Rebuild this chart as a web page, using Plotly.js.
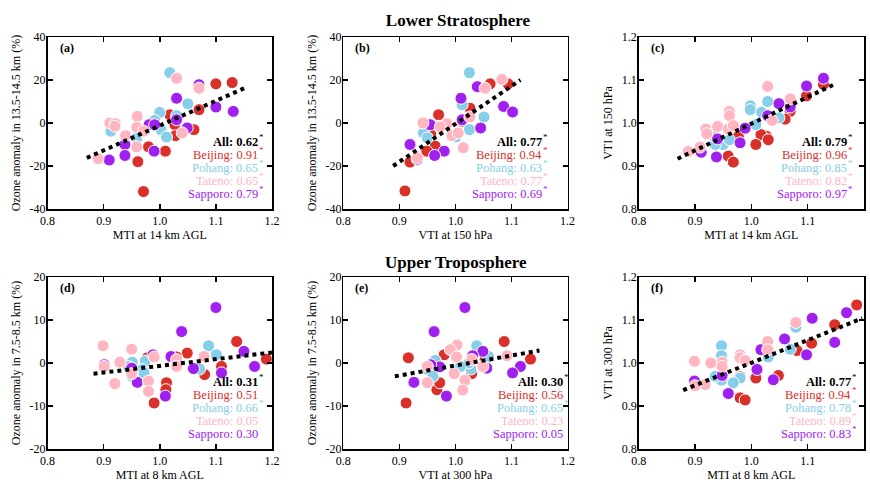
<!DOCTYPE html>
<html><head><meta charset="utf-8">
<script src="https://cdn.plot.ly/plotly-3.0.1.min.js"></script>
<style>html,body{margin:0;padding:0;background:#fff}</style>
</head><body><div id="chart" style="width:870px;height:483px"></div>
<script>
// ---------- DATA ----------
const stations = ['Beijing', 'Pohang', 'Tateno', 'Sapporo'];

// (a) MTI at 14 km vs ozone anomaly 13.5-14.5 km
const aBeijingX = [1.100, 1.129, 1.070, 1.018, 1.027, 1.061, 1.028, 0.980, 1.010, 0.961, 0.971];
const aBeijingY = [18.2, 18.8, 6.2, 3.8, -0.8, -3.1, -5.9, -11.1, -13.1, -18.0, -31.9];
const aPohangX = [1.018, 1.050, 1.000, 0.991, 1.002, 1.012, 0.913, 0.913, 0.959, 1.030];
const aPohangY = [23.4, 8.9, 4.9, 1.2, -3.1, -6.5, -1.5, -3.8, -7.0, 3.4];
const aTatenoX = [1.030, 1.070, 0.911, 0.921, 0.920, 0.960, 0.959, 0.939, 0.971, 0.959, 0.890, 1.040];
const aTatenoY = [20.8, 16.2, 0.0, -0.3, -1.5, 3.1, -2.0, -5.9, -3.8, -11.1, -16.6, -4.6];
const aSapporoX = [1.070, 1.030, 1.100, 1.131, 0.981, 0.991, 1.030, 1.049, 0.938, 0.990, 0.938, 0.910];
const aSapporoY = [17.8, 11.5, 7.4, 5.4, -0.8, -0.8, 1.5, -2.3, -10.0, -13.1, -15.1, -17.2];

// (b) VTI at 150 hPa vs ozone anomaly 13.5-14.5 km
const bBeijingX = [1.062, 1.094, 1.026, 0.970, 1.012, 0.956, 0.964, 0.949, 0.919, 0.910];
const bBeijingY = [18.2, 18.2, 6.9, 3.8, 0.8, -4.9, -10.8, -13.1, -18.2, -31.6];
const bPohangX = [1.025, 1.012, 1.051, 1.025, 0.943, 0.950, 0.970, 1.001];
const bPohangY = [23.4, 8.5, 2.8, -3.1, -4.6, -6.9, -1.5, -6.5];
const bTatenoX = [1.083, 1.053, 0.942, 0.985, 0.973, 0.994, 1.005, 1.014, 1.026, 0.932];
const bTatenoY = [20.3, 16.2, 0.0, -0.3, -1.8, -5.9, -4.6, -11.5, 2.8, -16.2];
const bSapporoX = [1.039, 1.010, 1.086, 1.102, 0.955, 1.012, 1.045, 0.919, 0.980, 0.963, 0.932];
const bSapporoY = [16.9, 11.5, 7.7, 5.1, -0.8, 1.5, -2.3, -10.0, -13.1, -15.1, -16.9];

// (c) MTI at 14 km vs VTI at 150 hPa
const cBeijingX = [1.128, 1.098, 1.069, 1.060, 1.027, 1.017, 1.030, 1.008, 0.977, 0.959, 0.968];
const cBeijingY = [1.090, 1.063, 1.027, 1.009, 0.969, 0.973, 0.961, 0.950, 0.969, 0.923, 0.909];
const cPohangX = [0.998, 0.998, 1.029, 1.018, 1.008, 1.049, 0.934, 0.950, 0.936, 0.961];
const cPohangY = [1.040, 1.031, 1.050, 1.025, 0.996, 1.012, 0.968, 0.950, 0.950, 0.961];
const cTatenoX = [1.029, 1.069, 0.961, 0.961, 0.919, 0.921, 0.940, 0.959, 0.968, 1.037, 0.888, 0.909];
const cTatenoY = [1.085, 1.056, 1.027, 1.017, 0.986, 0.975, 0.992, 0.986, 0.994, 1.006, 0.934, 0.944];
const cSapporoX = [1.128, 1.098, 1.049, 1.069, 1.029, 0.989, 0.980, 0.940, 0.938, 0.911];
const cSapporoY = [1.104, 1.086, 1.045, 1.037, 1.017, 0.988, 0.954, 0.963, 0.921, 0.932];

// (d) MTI at 8 km vs ozone anomaly 7.5-8.5 km
const dBeijingX = [1.137, 1.190, 1.110, 1.080, 1.049, 1.030, 0.978, 1.012, 1.011, 0.990];
const dBeijingY = [5.0, 0.9, -0.8, -2.7, 2.3, 1.4, 1.2, -4.6, -6.2, -9.3];
const dPohangX = [1.087, 1.101, 1.071, 0.974, 0.951, 0.944, 0.969, 0.972, 0.951];
const dPohangY = [4.0, 1.9, -1.4, 0.4, 0.2, -0.8, -1.5, -2.3, -3.1];
const dTatenoX = [0.899, 0.950, 0.929, 0.990, 1.030, 1.030, 1.079, 0.901, 0.950, 0.920, 0.980, 0.980];
const dTatenoY = [4.0, 3.2, 0.2, 1.4, 0.8, -0.8, 1.5, -0.8, -2.5, -4.8, -4.2, -6.6];
const dSapporoX = [1.100, 1.039, 1.150, 1.169, 1.110, 1.060, 1.020, 0.988, 0.950, 0.901, 0.960, 1.010];
const dSapporoY = [12.9, 7.3, 2.7, -0.8, -2.3, -1.3, 1.5, 1.9, -1.2, -0.4, -4.5, -7.7];

// (e) VTI at 300 hPa vs ozone anomaly 7.5-8.5 km
const eBeijingX = [1.087, 1.134, 0.916, 0.912, 0.980, 0.967, 0.972, 1.029, 1.053];
const eBeijingY = [5.0, 0.9, 1.2, -9.3, 1.9, -6.2, -4.6, -2.5, 0.8];
const ePohangX = [1.038, 1.059, 1.028, 0.964, 0.950, 0.960, 1.024, 1.009];
const ePohangY = [4.0, 1.5, -1.4, 0.6, -1.5, -3.1, 0.0, -0.8];
const eTatenoX = [1.003, 0.991, 1.002, 0.950, 0.950, 0.998, 1.017, 1.013, 1.049, 1.092, 1.029];
const eTatenoY = [4.2, 3.1, 1.4, -0.8, -4.6, -2.5, -4.0, -6.3, -0.8, 1.7, 0.8];
const eSapporoX = [1.017, 0.962, 1.049, 1.116, 1.102, 1.056, 1.031, 0.972, 0.956, 0.926, 0.984];
const eSapporoY = [12.9, 7.3, 2.7, -0.8, -2.3, -1.2, 1.7, -0.9, -0.4, -4.5, -7.7];

// (f) MTI at 8 km vs VTI at 300 hPa
const fBeijingX = [1.187, 1.148, 1.107, 1.081, 1.048, 1.008, 0.980, 0.980, 0.989];
const fBeijingY = [1.135, 1.089, 1.046, 1.029, 0.971, 0.965, 0.968, 0.919, 0.914];
const fPohangX = [1.079, 1.069, 1.030, 0.947, 0.947, 0.947, 0.980, 0.968, 0.936];
const fPohangY = [1.083, 1.032, 1.014, 1.040, 1.017, 0.960, 0.965, 0.954, 0.969];
const fTatenoX = [1.079, 1.029, 1.029, 0.980, 0.980, 0.989, 0.948, 0.948, 0.928, 0.899, 0.918, 0.900];
const fTatenoY = [1.094, 1.050, 1.031, 1.019, 1.012, 1.006, 1.002, 0.992, 1.000, 1.004, 0.950, 0.947];
const fSapporoX = [1.169, 1.108, 1.148, 1.059, 1.098, 1.017, 1.010, 1.039, 0.948, 0.959, 0.899];
const fSapporoY = [1.117, 1.104, 1.048, 1.056, 1.019, 1.031, 0.985, 0.961, 0.971, 0.929, 0.958];

// regression line end points (all stations), panels a..f
const fitX = [[0.870, 1.151], [0.889, 1.116], [0.869, 1.146], [0.882, 1.200], [0.892, 1.150], [0.879, 1.197]];
const fitY = [[-16.2, 16.2], [-20.0, 20.0], [0.917, 1.089], [-2.5, 2.45], [-3.1, 2.9], [0.937, 1.104]];

// correlation coefficients per panel a..f and significance
const rAll     = ['0.62', '0.77', '0.79', '0.31', '0.30', '0.77'];
const rBeijing = ['0.91', '0.94', '0.96', '0.51', '0.56', '0.94'];
const rPohang  = ['0.65', '0.63', '0.85', '0.66', '0.65', '0.78'];
const rTateno  = ['0.65', '0.77', '0.82', '0.05', '0.23', '0.89'];
const rSapporo = ['0.79', '0.69', '0.97', '0.30', '0.05', '0.83'];
const sigAll     = [1, 1, 1, 1, 1, 1];
const sigBeijing = [1, 1, 1, 0, 0, 1];
const sigPohang  = [1, 1, 1, 1, 1, 1];
const sigTateno  = [1, 1, 1, 0, 0, 1];
const sigSapporo = [1, 1, 1, 0, 0, 1];

// labels
const panelLabels = ['(a)', '(b)', '(c)', '(d)', '(e)', '(f)'];
const xTitles = ['MTI at 14 km AGL', 'VTI at 150 hPa', 'MTI at 14 km AGL', 'MTI at 8 km AGL', 'VTI at 300 hPa', 'MTI at 8 km AGL'];
const yTitles = ['Ozone anomaly in 13.5-14.5 km (%)', 'Ozone anomaly in 13.5-14.5 km (%)', 'VTI at 150 hPa',
                 'Ozone anomaly in 7.5-8.5 km (%)', 'Ozone anomaly in 7.5-8.5 km (%)', 'VTI at 300 hPa'];
const sectionTitles = ['Lower Stratosphere', 'Upper Troposphere'];
const ratioTicks = [0.8, 0.9, 1.0, 1.1, 1.2];
const ratioTickText = ['0.8', '0.9', '1.0', '1.1', '1.2'];
const o3LSTicks = [-40, -20, 0, 20, 40];
const o3LSTickText = ['-40', '-20', '0', '20', '40'];
const o3UTTicks = [-20, -10, 0, 10, 20];
const o3UTTickText = ['-20', '-10', '0', '10', '20'];

// ---------- STYLE / LAYOUT ----------
const colors = {Beijing: '#D9312A', Pohang: '#87CEEB', Tateno: '#FFB6C1', Sapporo: '#A020F0'};
const drawOrder = ['Beijing', 'Pohang', 'Sapporo', 'Tateno'];
const FONT = '"Liberation Serif", "Times New Roman", Times, serif';

const panelData = [
  {Beijing: [aBeijingX, aBeijingY], Pohang: [aPohangX, aPohangY], Tateno: [aTatenoX, aTatenoY], Sapporo: [aSapporoX, aSapporoY]},
  {Beijing: [bBeijingX, bBeijingY], Pohang: [bPohangX, bPohangY], Tateno: [bTatenoX, bTatenoY], Sapporo: [bSapporoX, bSapporoY]},
  {Beijing: [cBeijingX, cBeijingY], Pohang: [cPohangX, cPohangY], Tateno: [cTatenoX, cTatenoY], Sapporo: [cSapporoX, cSapporoY]},
  {Beijing: [dBeijingX, dBeijingY], Pohang: [dPohangX, dPohangY], Tateno: [dTatenoX, dTatenoY], Sapporo: [dSapporoX, dSapporoY]},
  {Beijing: [eBeijingX, eBeijingY], Pohang: [ePohangX, ePohangY], Tateno: [eTatenoX, eTatenoY], Sapporo: [eSapporoX, eSapporoY]},
  {Beijing: [fBeijingX, fBeijingY], Pohang: [fPohangX, fPohangY], Tateno: [fTatenoX, fTatenoY], Sapporo: [fSapporoX, fSapporoY]}
];
const yTickSets = [[o3LSTicks, o3LSTickText, [-40, 40]], [o3LSTicks, o3LSTickText, [-40, 40]], [ratioTicks, ratioTickText, [0.8, 1.2]],
                   [o3UTTicks, o3UTTickText, [-20, 20]], [o3UTTicks, o3UTTickText, [-20, 20]], [ratioTicks, ratioTickText, [0.8, 1.2]]];

const W = 870, H = 483;
const colPx = [[47.5, 272], [343.3, 567.5], [638.7, 864]];
const rowPx = [[37, 209], [277, 449]];
const legendRight = [0.94, 0.892, 0.931, 0.942, 0.985, 0.946];

const traces = [];
const layout = {
  width: W, height: H, autosize: false,
  margin: {l: 0, r: 0, t: 0, b: 0, pad: 0},
  paper_bgcolor: '#fff', plot_bgcolor: '#fff',
  showlegend: false,
  font: {family: FONT, size: 12, color: '#000'},
  title: {text: '<b>' + sectionTitles[0] + '</b>', x: 458 / W, xanchor: 'center', y: 1 - 20 / H, yanchor: 'middle',
          font: {family: FONT, size: 17, color: '#000'}},
  annotations: []
};

for (let p = 0; p < 6; p++) {
  const sfx = p === 0 ? '' : String(p + 1);
  const col = p % 3, row = Math.floor(p / 3);
  const xd = [colPx[col][0] / W, colPx[col][1] / W];
  const yd = [1 - rowPx[row][1] / H, 1 - rowPx[row][0] / H];
  const yt = yTickSets[p];
  const axCommon = {
    showline: true, linecolor: '#000', linewidth: 1.5, mirror: 'ticks',
    ticks: 'inside', ticklen: 5, tickwidth: 1.5, tickcolor: '#000',
    showgrid: false, zeroline: false,
    tickfont: {family: FONT, size: 12, color: '#000'}
  };
  layout['xaxis' + sfx] = Object.assign({}, axCommon, {
    domain: xd, range: [0.8, 1.2], anchor: 'y' + sfx,
    tickmode: 'array', tickvals: ratioTicks, ticktext: ratioTickText,
    title: {text: xTitles[p], font: {family: FONT, size: 12, color: '#000'}, standoff: 3}
  });
  layout['yaxis' + sfx] = Object.assign({}, axCommon, {
    domain: yd, range: yt[2], anchor: 'x' + sfx,
    tickmode: 'array', tickvals: yt[0], ticktext: yt[1], ticklabelstandoff: -2,
    title: {text: yTitles[p], font: {family: FONT, size: 12, color: '#000'}, standoff: 6}
  });

  drawOrder.forEach(function (st) {
    const d = panelData[p][st];
    traces.push({
      type: 'scatter', mode: 'markers', name: st, x: d[0], y: d[1],
      xaxis: 'x' + sfx, yaxis: 'y' + sfx,
      marker: {size: 12, color: colors[st], line: {color: '#fff', width: 1}},
      hoverinfo: 'x+y+name'
    });
  });
  traces.push({
    type: 'scatter', mode: 'lines', name: 'All', x: fitX[p], y: fitY[p],
    xaxis: 'x' + sfx, yaxis: 'y' + sfx,
    line: {color: '#000', width: 4, dash: 'dot'}, hoverinfo: 'skip'
  });

  // panel label
  layout.annotations.push({
    xref: 'x' + sfx + ' domain', yref: 'y' + sfx + ' domain', x: 0.045, y: 0.934,
    xanchor: 'left', yanchor: 'middle', showarrow: false,
    text: '<b>' + panelLabels[p] + '</b>', font: {family: FONT, size: 12, color: '#000'}
  });

  // correlation text block
  const lines = [
    ['<b>All: ' + rAll[p] + '</b>', sigAll[p], '#000'],
    ['Beijing: ' + rBeijing[p], sigBeijing[p], colors.Beijing],
    ['Pohang: ' + rPohang[p], sigPohang[p], colors.Pohang],
    ['Tateno: ' + rTateno[p], sigTateno[p], colors.Tateno],
    ['Sapporo: ' + rSapporo[p], sigSapporo[p], colors.Sapporo]
  ];
  lines.forEach(function (ln, k) {
    const yy = 0.391 - 0.0755 * k;
    layout.annotations.push({
      xref: 'x' + sfx + ' domain', yref: 'y' + sfx + ' domain', x: legendRight[p], y: yy,
      xanchor: 'right', yanchor: 'middle', showarrow: false, borderpad: 0,
      text: ln[0], font: {family: FONT, size: 12.5, color: ln[2]}
    });
    if (ln[1]) {
      layout.annotations.push({
        xref: 'x' + sfx + ' domain', yref: 'y' + sfx + ' domain', x: legendRight[p], y: yy,
        xanchor: 'left', yanchor: 'middle', yshift: 5, xshift: -1, showarrow: false, borderpad: 0,
        text: '*', font: {family: FONT, size: 9, color: ln[2]}
      });
    }
  });
}

layout.annotations.push({
  xref: 'paper', yref: 'paper', x: 456 / W, y: 1 - 262 / H, xanchor: 'center', yanchor: 'middle',
  showarrow: false, text: '<b>' + sectionTitles[1] + '</b>', font: {family: FONT, size: 17, color: '#000'}
});

Plotly.newPlot('chart', traces, layout, {displayModeBar: false, staticPlot: true});
</script></body></html>
